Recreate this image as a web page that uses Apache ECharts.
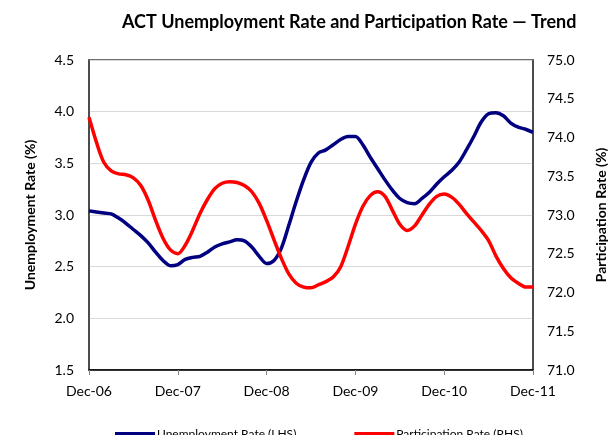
<!DOCTYPE html>
<html>
<head>
<meta charset="utf-8">
<script src="https://cdn.jsdelivr.net/npm/echarts@6/dist/echarts.min.js"></script>
<style>
html,body{margin:0;padding:0;background:#fff;}
#chart{width:616px;height:435px;}
</style>
</head>
<body>
<div id="chart"></div>
<script>
var monthNames = ['Jan','Feb','Mar','Apr','May','Jun','Jul','Aug','Sep','Oct','Nov','Dec'];
var categories = ['Dec-06'];
for (var y = 7; y <= 11; y++) {
  for (var m = 0; m < 12; m++) {
    categories.push(monthNames[m] + '-' + (y < 10 ? '0' + y : y));
  }
}
var unemploymentRate = [3.04,3.03,3.02,3.01,2.97,2.92,2.86,2.80,2.73,2.64,2.56,2.51,2.52,2.57,2.59,2.60,2.64,2.69,2.72,2.74,2.76,2.75,2.69,2.60,2.53,2.56,2.68,2.90,3.13,3.34,3.51,3.60,3.63,3.68,3.73,3.76,3.76,3.68,3.56,3.45,3.34,3.24,3.16,3.12,3.11,3.16,3.22,3.30,3.37,3.43,3.51,3.63,3.76,3.90,3.98,3.99,3.96,3.89,3.85,3.83,3.80];
var participationRate = [74.26,73.94,73.68,73.57,73.53,73.52,73.48,73.38,73.19,72.93,72.70,72.55,72.50,72.61,72.80,73.02,73.20,73.34,73.41,73.43,73.42,73.38,73.30,73.15,72.93,72.68,72.44,72.24,72.12,72.07,72.06,72.10,72.14,72.20,72.33,72.59,72.88,73.11,73.25,73.30,73.24,73.06,72.88,72.80,72.86,73.00,73.14,73.24,73.27,73.23,73.14,73.02,72.91,72.80,72.67,72.47,72.31,72.19,72.12,72.07,72.07];
var seriesNames = ['Unemployment Rate (LHS)', 'Participation Rate (RHS)'];

var FONT = 'Lato';
var chart = echarts.init(document.getElementById('chart'), null, {renderer: 'canvas'});
chart.setOption({
  animation: false,
  backgroundColor: '#fff',
  textStyle: {fontFamily: FONT},
  title: {
    text: 'ACT Unemployment Rate and Participation Rate \u2014 Trend',
    left: 117, top: 8,
    textStyle: {fontFamily: FONT, fontWeight: 'bold', fontSize: 18, color: '#000'}
  },
  legend: {
    data: seriesNames,
    left: 110, top: 423,
    itemWidth: 40, itemHeight: 4,
    itemGap: 58,
    icon: 'rect',
    textStyle: {fontFamily: FONT, fontSize: 12, color: '#000', padding: [0,0,0,-3]}
  },
  grid: {
    left: 89, right: 79, top: 60, bottom: 65,
    show: true, borderColor: '#404040', borderWidth: 1.5, containLabel: false
  },
  xAxis: {
    type: 'category',
    data: categories,
    boundaryGap: false,
    axisLine: {lineStyle: {color: '#000', width: 1.5}},
    axisTick: {show: true, interval: 11, length: 5, lineStyle: {color: '#888'}},
    axisLabel: {interval: 11, fontSize: 14, color: '#000', margin: 14, fontFamily: FONT},
    splitLine: {show: false}
  },
  yAxis: [{
    type: 'value', min: 1.5, max: 4.5, interval: 0.5,
    name: 'Unemployment Rate (%)', nameLocation: 'middle', nameGap: 52, nameRotate: 90,
    nameTextStyle: {fontWeight: 'bold', fontSize: 14, color: '#000', fontFamily: FONT},
    axisLine: {show: true, lineStyle: {color: '#404040', width: 1.5}},
    axisTick: {show: false},
    axisLabel: {formatter: function(v){return v.toFixed(1);}, fontSize: 14, color: '#000', margin: 15, fontFamily: FONT},
    splitLine: {show: true, lineStyle: {color: '#d9d9d9', width: 1}}
  }, {
    type: 'value', min: 71, max: 75, interval: 0.5, position: 'right',
    name: 'Participation Rate (%)', nameLocation: 'middle', nameGap: 61, nameRotate: 90,
    nameTextStyle: {fontWeight: 'bold', fontSize: 14, color: '#000', fontFamily: FONT},
    axisLine: {show: true, lineStyle: {color: '#404040', width: 1.5}},
    axisTick: {show: false},
    axisLabel: {formatter: function(v){return v.toFixed(1);}, fontSize: 14, color: '#000', margin: 14, fontFamily: FONT},
    splitLine: {show: false}
  }],
  series: [{
    name: seriesNames[0], type: 'line', yAxisIndex: 0,
    data: unemploymentRate, smooth: 0.3, showSymbol: false, symbol: 'none',
    lineStyle: {color: '#000080', width: 3.5}, itemStyle: {color: '#000080'}
  }, {
    name: seriesNames[1], type: 'line', yAxisIndex: 1,
    data: participationRate, smooth: 0.3, showSymbol: false, symbol: 'none',
    lineStyle: {color: '#ff0000', width: 3.5}, itemStyle: {color: '#ff0000'}
  }]
});
</script>
</body>
</html>
